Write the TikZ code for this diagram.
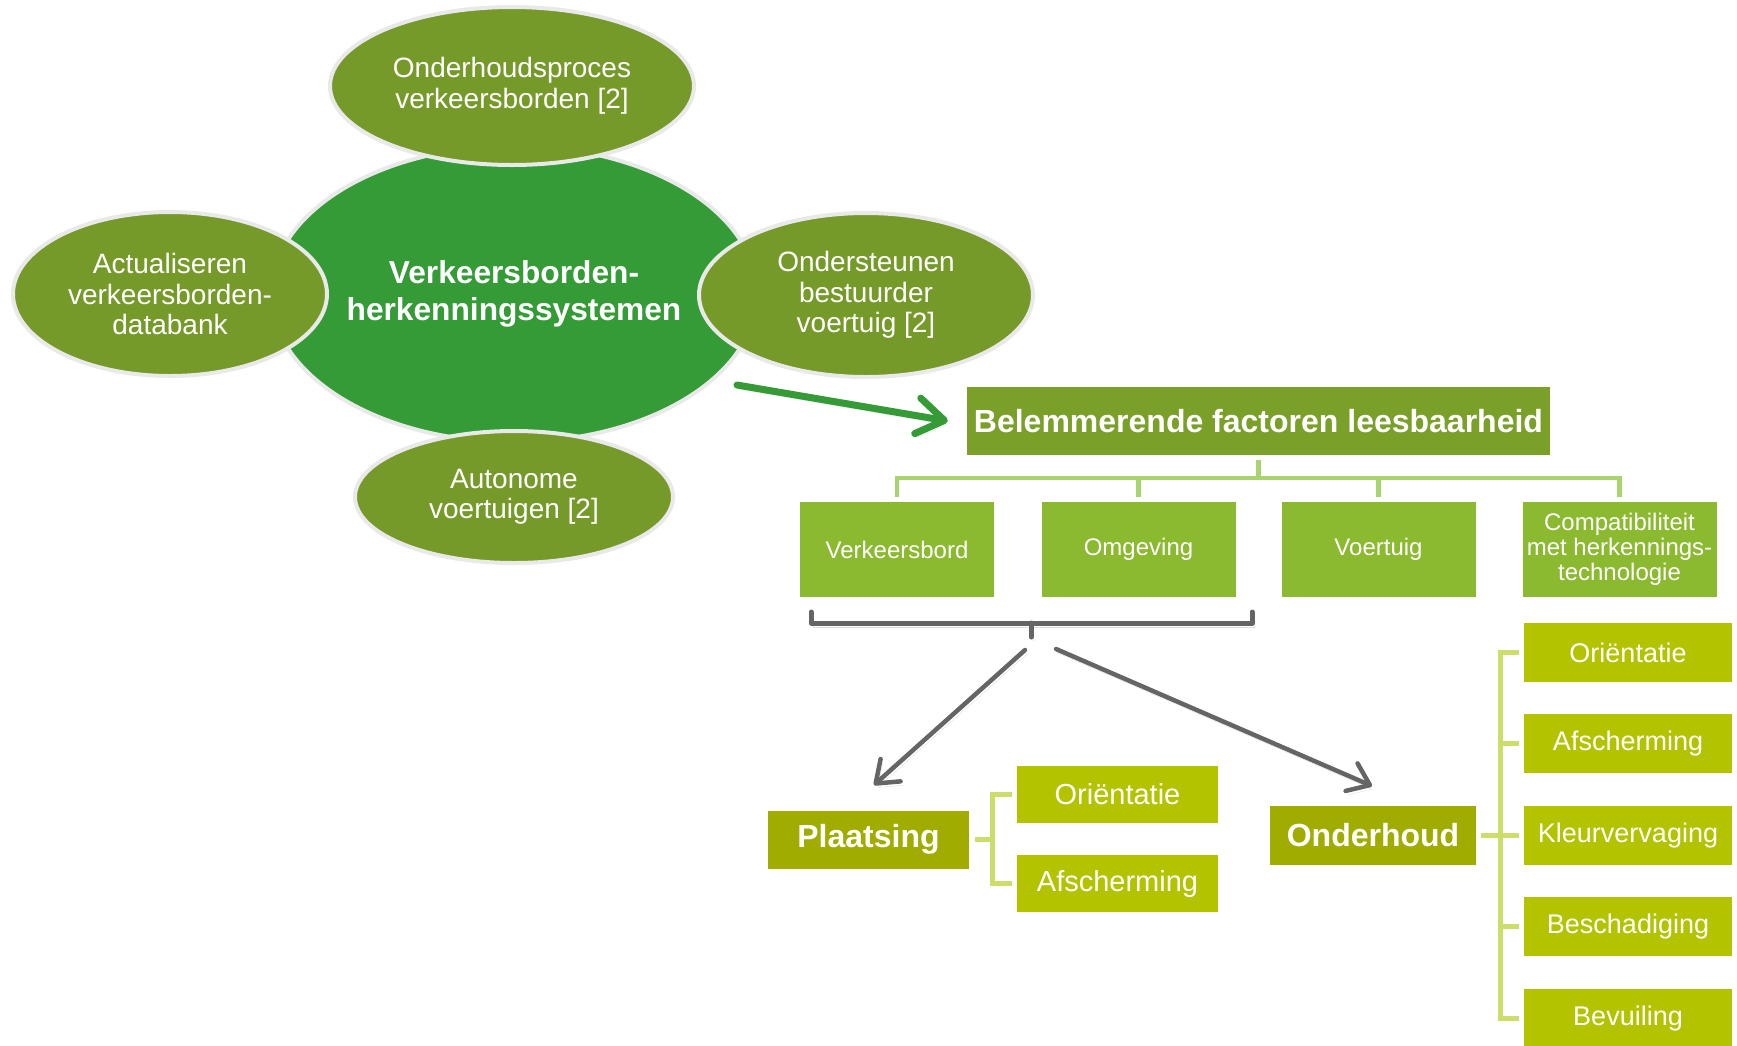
\documentclass[tikz,border=0pt]{standalone}
\usepackage{fontspec}
\setmainfont{Liberation Sans}
\usetikzlibrary{shapes.geometric,arrows.meta,calc}
\definecolor{olivegreen}{HTML}{769A2A}
\definecolor{hubgreen}{HTML}{349B37}
\definecolor{headgreen}{HTML}{7AA02A}
\definecolor{rowgreen}{HTML}{8BB92F}
\definecolor{limefill}{HTML}{B3C300}
\definecolor{darklime}{HTML}{A0AC00}
\definecolor{treeline}{HTML}{A8D46F}
\definecolor{limeline}{HTML}{CCDD6A}
\definecolor{arrowgray}{HTML}{656565}
\definecolor{rimgray}{HTML}{E9E9E9}
\tikzset{
  hub/.style={ellipse, inner sep=0pt, draw=rimgray, line width=4pt, fill=hubgreen,
    text=white, align=center, font=\bfseries\fontsize{31.7}{36.5}\selectfont},
  oval/.style={ellipse, inner sep=0pt, draw=rimgray, line width=4pt, fill=olivegreen,
    text=white, align=center, font=\fontsize{28}{30.5}\selectfont},
  headbox/.style={rectangle, inner sep=0pt, fill=headgreen, text=white,
    minimum width=583pt, minimum height=68pt, font=\bfseries\fontsize{32}{36}\selectfont},
  rowbox/.style={rectangle, inner sep=0pt, fill=rowgreen, text=white, align=center,
    minimum width=194pt, minimum height=95pt, font=\fontsize{24}{25}\selectfont},
  groupbox/.style={rectangle, inner sep=0pt, fill=darklime, text=white,
    minimum height=58pt, font=\bfseries\fontsize{32}{36}\selectfont},
  leafL/.style={rectangle, inner sep=0pt, fill=limefill, text=white,
    minimum width=201pt, minimum height=57pt, font=\fontsize{29}{32}\selectfont},
  leafR/.style={rectangle, inner sep=0pt, fill=limefill, text=white,
    minimum width=208pt, minimum height=59pt, font=\fontsize{27}{30}\selectfont},
  tree/.style={draw=treeline, line width=4.5pt},
  limebr/.style={draw=limeline, line width=5pt},
  shade/.style={preaction={draw=black, opacity=0.13, transform canvas={shift={(2pt,-4pt)}}}},
  greenarrow/.style={draw=hubgreen, line width=7pt, line cap=round, shade,
    -{Straight Barb[length=27pt,width=36pt,line cap=round,line join=round]}},
  grayarrow/.style={draw=arrowgray, line width=4.5pt, line cap=round, shade,
    -{Straight Barb[length=20pt,width=30pt,line cap=round,line join=round]}},
  bracketline/.style={draw=arrowgray, line width=5pt, line cap=round, line join=round, shade}
}
\begin{document}
\begin{tikzpicture}[x=1pt,y=-1pt]
\useasboundingbox (0,0) rectangle (1737,1045);

% hub and satellites
\node[hub, minimum width=486pt, minimum height=296pt] (hub) at (514,294)
  {Verkeersborden-\\herkenningssystemen};
\node[oval, minimum width=364pt, minimum height=158pt] (top) at (512,86)
  {Onderhoudsproces\\verkeersborden [2]};
\node[oval, minimum width=314pt, minimum height=164pt] (left) at (170,294)
  {Actualiseren\\verkeersborden-\\databank};
\node[oval, minimum width=334pt, minimum height=164pt] (right) at (866,295)
  {Ondersteunen\\bestuurder\\voertuig [2]};
\node[oval, minimum width=318pt, minimum height=132pt] (bottom) at (514,497)
  {Autonome\\voertuigen [2]};

% header and row
\node[headbox] (bel) at (1258.5,421) {Belemmerende factoren leesbaarheid};
\node[rowbox] (vb) at (897,549.5) {Verkeersbord};
\node[rowbox] (om) at (1138.5,549.5) {Omgeving};
\node[rowbox] (vt) at (1378.5,549.5) {Voertuig};
\node[rowbox] (cp) at (1619.5,549.5) {Compatibiliteit\\met herkennings-\\technologie};

% green arrow
\coordinate (gs) at (737,385);
\draw[greenarrow] (gs) -- ([xshift=-19pt]bel.west);

% tree connectors
\draw[tree, shorten <=5pt] (bel.south) -- ++(0,23) coordinate (tj);
\foreach \n in {vb,om,vt,cp} \draw[tree, shorten >=5pt] (tj) -| (\n.north);

% gray bracket
\coordinate (brL) at (811,612);
\coordinate (brR) at (1252,612);
\coordinate (brM) at (1031,623);
\coordinate (brC) at (1031,637);
\draw[bracketline] (brL) -- (811,623) -- (1252,623) -- (brR);
\draw[bracketline] (brM) -- (brC);

% groups
\node[groupbox, minimum width=201pt] (pl) at (868.5,839.5) {Plaatsing};
\node[groupbox, minimum width=206pt, minimum height=59pt] (oh) at (1373,835.5) {Onderhoud};

% gray arrows
\coordinate (aL) at (1025,650);
\coordinate (aR) at (1056,649);
\coordinate (tipL) at (874,785);
\coordinate (tipR) at (1372,786);
\draw[grayarrow] (aL) -- (tipL);
\draw[grayarrow] (aR) -- (tipR);

% Plaatsing leaves
\node[leafL] (po) at (1117.5,794.5) {Oriëntatie};
\node[leafL] (pa) at (1117.5,883.5) {Afscherming};
\draw[limebr] ([xshift=-5pt]po.west) -- ([xshift=-24pt]po.west) |- ([xshift=-5pt]pa.west);
\draw[limebr] ([xshift=6pt]pl.east) -- ++(18,0);

% Onderhoud leaves
\node[leafR] (r1) at (1628,652.5) {Oriëntatie};
\node[leafR] (r2) at (1628,743.5) {Afscherming};
\node[leafR] (r3) at (1628,835.5) {Kleurvervaging};
\node[leafR] (r4) at (1628,926.5) {Beschadiging};
\node[leafR] (r5) at (1628,1018.5) {Bevuiling};
\draw[limebr] ([xshift=-5pt]r1.west) -- ([xshift=-23pt]r1.west) |- ([xshift=-5pt]r5.west);
\foreach \n in {r2,r3,r4} \draw[limebr] ([xshift=-5pt]\n.west) -- ++(-18,0);
\draw[limebr] ([xshift=5pt]oh.east) -- ++(20,0);
\end{tikzpicture}
\end{document}
